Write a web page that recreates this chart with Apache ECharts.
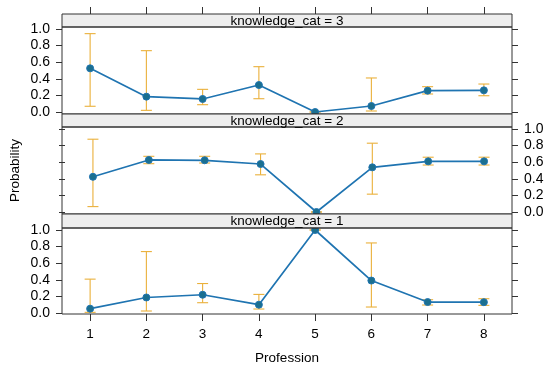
<!DOCTYPE html>
<html>
<head>
<meta charset="utf-8">
<script src="https://cdn.jsdelivr.net/npm/echarts@6/dist/echarts.min.js"></script>
<style>html,body{margin:0;padding:0;background:#fff}#c{width:550px;height:369px}</style>
</head>
<body>
<div id="c"></div>
<script>
var professions = ['1','2','3','4','5','6','7','8'];
var yTicks = [0, 0.2, 0.4, 0.6, 0.8, 1.0];
var panelLabels = ['knowledge_cat = 3', 'knowledge_cat = 2', 'knowledge_cat = 1'];

var prob3 = [0.526, 0.185, 0.157, 0.325, 0.0, 0.072, 0.257, 0.261];
var low3  = [0.069, 0.020, 0.088, 0.160, 0.0, 0.012, 0.217, 0.196];
var high3 = [0.944, 0.739, 0.273, 0.546, 0.0, 0.410, 0.305, 0.337];

var prob2 = [0.424, 0.627, 0.623, 0.578, 0.0, 0.538, 0.610, 0.610];
var low2  = [0.065, 0.582, 0.590, 0.448, 0.0, 0.215, 0.566, 0.566];
var high2 = [0.877, 0.671, 0.671, 0.700, 0.0, 0.829, 0.660, 0.660];

var prob1 = [0.052, 0.187, 0.220, 0.100, 1.0, 0.391, 0.132, 0.130];
var low1  = [0.008, 0.024, 0.124, 0.048, 1.0, 0.072, 0.096, 0.092];
var high1 = [0.408, 0.740, 0.355, 0.224, 1.0, 0.844, 0.160, 0.172];

var probs = [prob3, prob2, prob1];
var lows = [low3, low2, low1];
var highs = [high3, high2, high1];

// layout
var L = 62, W = 450;
var panels = [
  {stripTop: 14, plotTop: 27, plotBot: 114, gTop: 29, gH: 83},
  {stripTop: 114, plotTop: 127, plotBot: 214, gTop: 129, gH: 83},
  {stripTop: 214, plotTop: 228, plotBot: 314, gTop: 230, gH: 83}
];
var FONT = 'Liberation Sans, Arial, Helvetica, sans-serif';
var lineColor = '#1f74b1';
var pointColor = '#1b6f8f';
var errColor = '#eab03a';

var chart = echarts.init(document.getElementById('c'), null, {renderer: 'canvas'});

var grids = [], xAxes = [], yAxes = [], series = [], graphics = [];
panels.forEach(function (p, i) {
  grids.push({left: L, width: W, top: p.gTop, height: p.gH, containLabel: false});
  var isTop = i === 0, isBot = i === 2;
  xAxes.push({
    type: 'category', gridIndex: i, data: professions, boundaryGap: true,
    position: isTop ? 'top' : 'bottom',
    offset: isTop ? (p.gTop - p.stripTop) : (p.plotBot - (p.gTop + p.gH)),
    axisLine: {show: false, onZero: false},
    axisTick: {show: isTop || isBot, alignWithLabel: true, length: 7, inside: false, lineStyle: {color: '#333'}},
    axisLabel: {show: isBot, margin: 13, color: '#000', fontSize: 13.5, fontFamily: FONT},
    splitLine: {show: false},
    name: isBot ? 'Profession' : '', nameLocation: 'middle', nameGap: 37,
    nameTextStyle: {color: '#000', fontSize: 13.5, fontFamily: FONT}
  });
  var leftLabels = (i !== 1);
  [0, 1].forEach(function (side) {
    var showLab = side === 0 ? leftLabels : !leftLabels;
    yAxes.push({
      type: 'value', gridIndex: i, min: 0, max: 1, interval: 0.2,
      position: side === 0 ? 'left' : 'right',
      axisLine: {show: false, onZero: false},
      axisTick: {show: true, length: 6, inside: false, lineStyle: {color: '#333'}},
      axisLabel: {show: showLab, margin: 12, color: '#000', fontSize: 14, fontFamily: FONT,
        formatter: function (v) { return v.toFixed(1); }},
      splitLine: {show: false},
      name: (i === 1 && side === 0) ? 'Probability' : '',
      nameLocation: 'middle', nameGap: 43, nameRotate: 90,
      nameTextStyle: {color: '#000', fontSize: 13.5, fontFamily: FONT}
    });
  });
  var yIdx = i * 2;
  var errData = probs[i].map(function (v, k) { return [k, lows[i][k], highs[i][k]]; });
  series.push({
    type: 'custom', xAxisIndex: i, yAxisIndex: yIdx, data: errData, z: 2,
    renderItem: function (params, api) {
      var lo = api.coord([api.value(0), api.value(1)]);
      var hi = api.coord([api.value(0), api.value(2)]);
      var hw = 5.5;
      var st = {stroke: errColor, lineWidth: 1.1, fill: null};
      return {type: 'group', children: [
        {type: 'line', shape: {x1: lo[0], y1: lo[1], x2: hi[0], y2: hi[1]}, style: st},
        {type: 'line', shape: {x1: lo[0] - hw, y1: lo[1], x2: lo[0] + hw, y2: lo[1]}, style: st},
        {type: 'line', shape: {x1: hi[0] - hw, y1: hi[1], x2: hi[0] + hw, y2: hi[1]}, style: st}
      ]};
    },
    silent: true, animation: false
  });
  series.push({
    type: 'line', xAxisIndex: i, yAxisIndex: yIdx, data: probs[i], z: 3,
    symbol: 'circle', symbolSize: 7,
    lineStyle: {color: lineColor, width: 1.7},
    itemStyle: {color: pointColor, borderColor: '#1f74b1', borderWidth: 1},
    animation: false, silent: true
  });
  graphics.push({type: 'rect', z: 100, shape: {x: L, y: p.stripTop, width: W, height: p.plotTop - p.stripTop},
    style: {fill: '#eeeeee', stroke: '#333', lineWidth: 1}});
  graphics.push({type: 'rect', z: 100, shape: {x: L, y: p.plotTop, width: W, height: p.plotBot - p.plotTop},
    style: {fill: null, stroke: '#333', lineWidth: 1}});
  graphics.push({type: 'text', z: 101, x: L + W / 2, y: (p.stripTop + p.plotTop) / 2 + 0.5,
    style: {text: panelLabels[i], fill: '#000', font: '13.5px ' + FONT, textAlign: 'center', textVerticalAlign: 'middle'}});
});

chart.setOption({
  animation: false,
  grid: grids, xAxis: xAxes, yAxis: yAxes, series: series,
  graphic: {elements: graphics}
});
</script>
</body>
</html>
